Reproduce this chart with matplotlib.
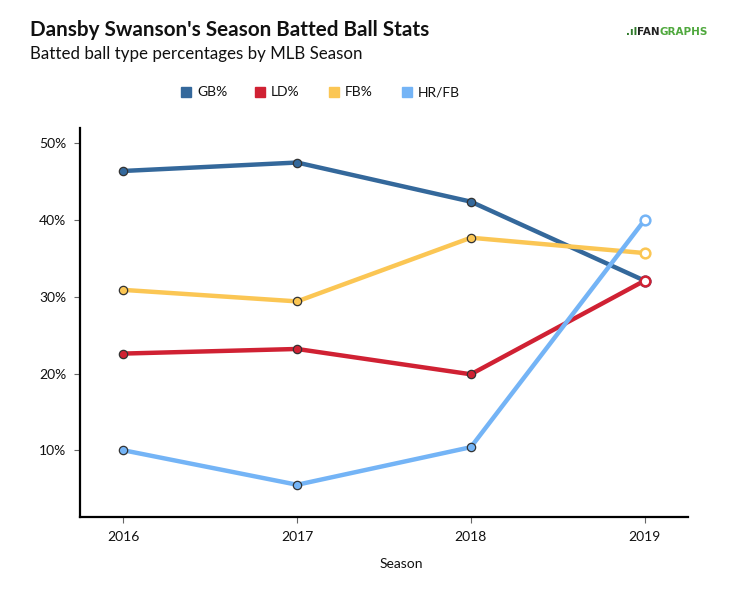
import matplotlib.pyplot as plt
from matplotlib.patches import Rectangle
from matplotlib.ticker import FuncFormatter

plt.rcParams['font.family'] = ['Lato', 'DejaVu Sans']

seasons = [2016, 2017, 2018, 2019]
gb_pct = [46.4, 47.5, 42.4, 32.1]
ld_pct = [22.6, 23.2, 19.9, 32.1]
fb_pct = [30.9, 29.4, 37.7, 35.7]
hr_fb = [10.0, 5.5, 10.4, 40.0]

series = [
    ("GB%", gb_pct, "#34689b"),
    ("LD%", ld_pct, "#d02133"),
    ("FB%", fb_pct, "#fbc654"),
    ("HR/FB", hr_fb, "#74b4f6"),
]

fig = plt.figure(figsize=(7.34, 5.99), dpi=100)
ax = fig.add_axes([80 / 734, 1 - 517 / 599, 608 / 734, 389 / 599])

for name, vals, color in series:
    ax.plot(seasons, vals, color=color, lw=3.2, solid_capstyle="round", zorder=2)
    ax.plot(seasons[:-1], vals[:-1], "o", ms=6, mfc=color, mec="#333333",
            mew=0.9, zorder=3)
    ax.plot(seasons[-1:], vals[-1:], "o", ms=7, mfc="white", mec=color,
            mew=1.8, zorder=3)

ax.set_xlim(2015.75, 2019.25)
ax.set_ylim(1.3, 52)
ax.set_xticks(seasons)
ax.set_yticks([10, 20, 30, 40, 50])
ax.yaxis.set_major_formatter(FuncFormatter(lambda v, p: f"{v:.0f}%"))
for s in ["top", "right"]:
    ax.spines[s].set_visible(False)
for s in ["left", "bottom"]:
    ax.spines[s].set_linewidth(1.6)
    ax.spines[s].set_color("black")
ax.tick_params(axis="both", length=4, width=0.8, color="#666666",
               labelsize=10, labelcolor="#111111")
ax.tick_params(axis="x", pad=6)
ax.tick_params(axis="y", pad=6)
ax.set_xlabel("Season", fontsize=10, color="#111111")
ax.xaxis.set_label_coords((401 - 80) / 608, -(564 - 517) / 389)
ax.xaxis.label.set_va("center")

fig.text(30 / 734, 1 - 30 / 599, "Dansby Swanson's Season Batted Ball Stats",
         fontsize=14.9, fontweight="bold", va="center", color="#111111")
fig.text(30 / 734, 1 - 54 / 599, "Batted ball type percentages by MLB Season",
         fontsize=12.2, va="center", color="#111111")

# logo
fig.text(626 / 734, 1 - 32 / 599, ".ıl", fontsize=7.5, fontweight="bold",
         color="#2f7a2a", va="center", family="DejaVu Sans")
fig.text(660 / 734, 1 - 32 / 599, "FAN", fontsize=7.5, fontweight="bold",
         color="#222222", va="center", ha="right", family="DejaVu Sans")
fig.text(660 / 734, 1 - 32 / 599, "GRAPHS", fontsize=7.5, fontweight="bold",
         color="#4fa83d", va="center", ha="left", family="DejaVu Sans")

# legend
legend_x = [181, 255, 329, 402]
for (name, vals, color), lx in zip(series, legend_x):
    fig.patches.append(Rectangle((lx / 734, 1 - 97 / 599), 10 / 734, 10 / 599,
                                 transform=fig.transFigure, color=color))
    fig.text((lx + 16) / 734, 1 - 92 / 599, name, fontsize=10, va="center",
             color="#111111")

fig.savefig("out.png", dpi=100)
